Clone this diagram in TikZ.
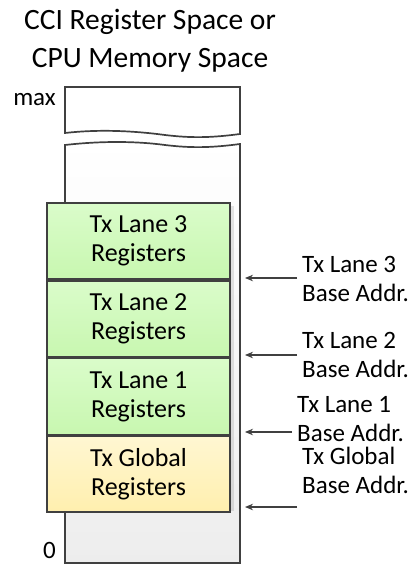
\documentclass[tikz,border=0pt]{standalone}
\usepackage{fontspec}
\setmainfont{Carlito}
\usetikzlibrary{arrows.meta}
\definecolor{edge}{HTML}{404040}
\definecolor{gtop}{HTML}{DAFCCA}
\definecolor{gbot}{HTML}{C8F7B0}
\definecolor{ytop}{HTML}{FFF7D2}
\definecolor{ybot}{HTML}{FFEFAE}
\begin{document}
\begin{tikzpicture}[x=1pt,y=-1pt,
  regbox/.style={draw=edge, line width=1.7pt, minimum width=183pt, minimum height=76pt,
    inner sep=0pt, align=center, font=\fontsize{26}{29}\selectfont},
  green/.style={top color=gtop, bottom color=gbot},
  yellow/.style={top color=ytop, bottom color=ybot},
  lab/.style={inner sep=0pt, align=left, anchor=base west, font=\fontsize{25}{28.5}\selectfont},
  arr/.style={draw=edge, line width=1.1pt, -{Stealth[length=8pt,width=6.5pt]}},
  side/.style={inner sep=0pt, anchor=base east, font=\fontsize{25}{28}\selectfont}]
\useasboundingbox (0,0) rectangle (410,565);
% title
\node[inner sep=0pt, align=center, font=\fontsize{29.5}{38}\selectfont] (title) at (150,41)
  {CCI Register Space or\\CPU Memory Space};
% top (max) box
\draw[edge, line width=1.7pt, fill=white] (65,87) -- (240,87) -- (240,134)
  .. controls (210,138) and (190,138) .. (165,135)
  .. controls (135,131) and (100,129) .. (65,133) -- cycle;
% lower tall box
\shade[top color=white, bottom color=black!7] (65,563) -- (65,145)
  .. controls (100,141) and (135,141) .. (165,145)
  .. controls (190,148) and (210,148) .. (240,144) -- (240,563) -- cycle;
\draw[edge, line width=1.7pt] (65,563) -- (65,145)
  .. controls (100,141) and (135,141) .. (165,145)
  .. controls (190,148) and (210,148) .. (240,144) -- (240,563) -- cycle;
\node[side] (max) at (56,105) {max};
\node[side] (zero) at (56,558.5) {0};
% shadow of the register stack
\fill[black, opacity=0.10] (49,206) rectangle (233.5,511);
% register boxes
\node[regbox, green] (l3) at (138.5,241) {Tx Lane 3\\Registers};
\node[regbox, green, anchor=north] (l2) at (l3.south) {Tx Lane 2\\Registers};
\node[regbox, green, anchor=north] (l1) at (l2.south) {Tx Lane 1\\Registers};
\node[regbox, yellow, anchor=north] (gl) at (l1.south) {Tx Global\\Registers};
% labels
\node[lab] (b3) at (302,301) {Tx Lane 3\\Base Addr.};
\node[lab] (b2) at (302,377) {Tx Lane 2\\Base Addr.};
\node[lab] (b1) at (297,441) {Tx Lane 1\\Base Addr.};
\node[lab] (bg) at (302,493) {Tx Global\\Base Addr.};
% arrows
\coordinate (s3) at (297,278); \coordinate (t3) at (245,278);
\coordinate (s2) at (297,355); \coordinate (t2) at (245,355);
\coordinate (s1) at (292,432); \coordinate (t1) at (245,432);
\coordinate (sg) at (297,507); \coordinate (tg) at (245,507);
\draw[arr] (s3) -- (t3);
\draw[arr] (s2) -- (t2);
\draw[arr] (s1) -- (t1);
\draw[arr] (sg) -- (tg);
\end{tikzpicture}
\end{document}
